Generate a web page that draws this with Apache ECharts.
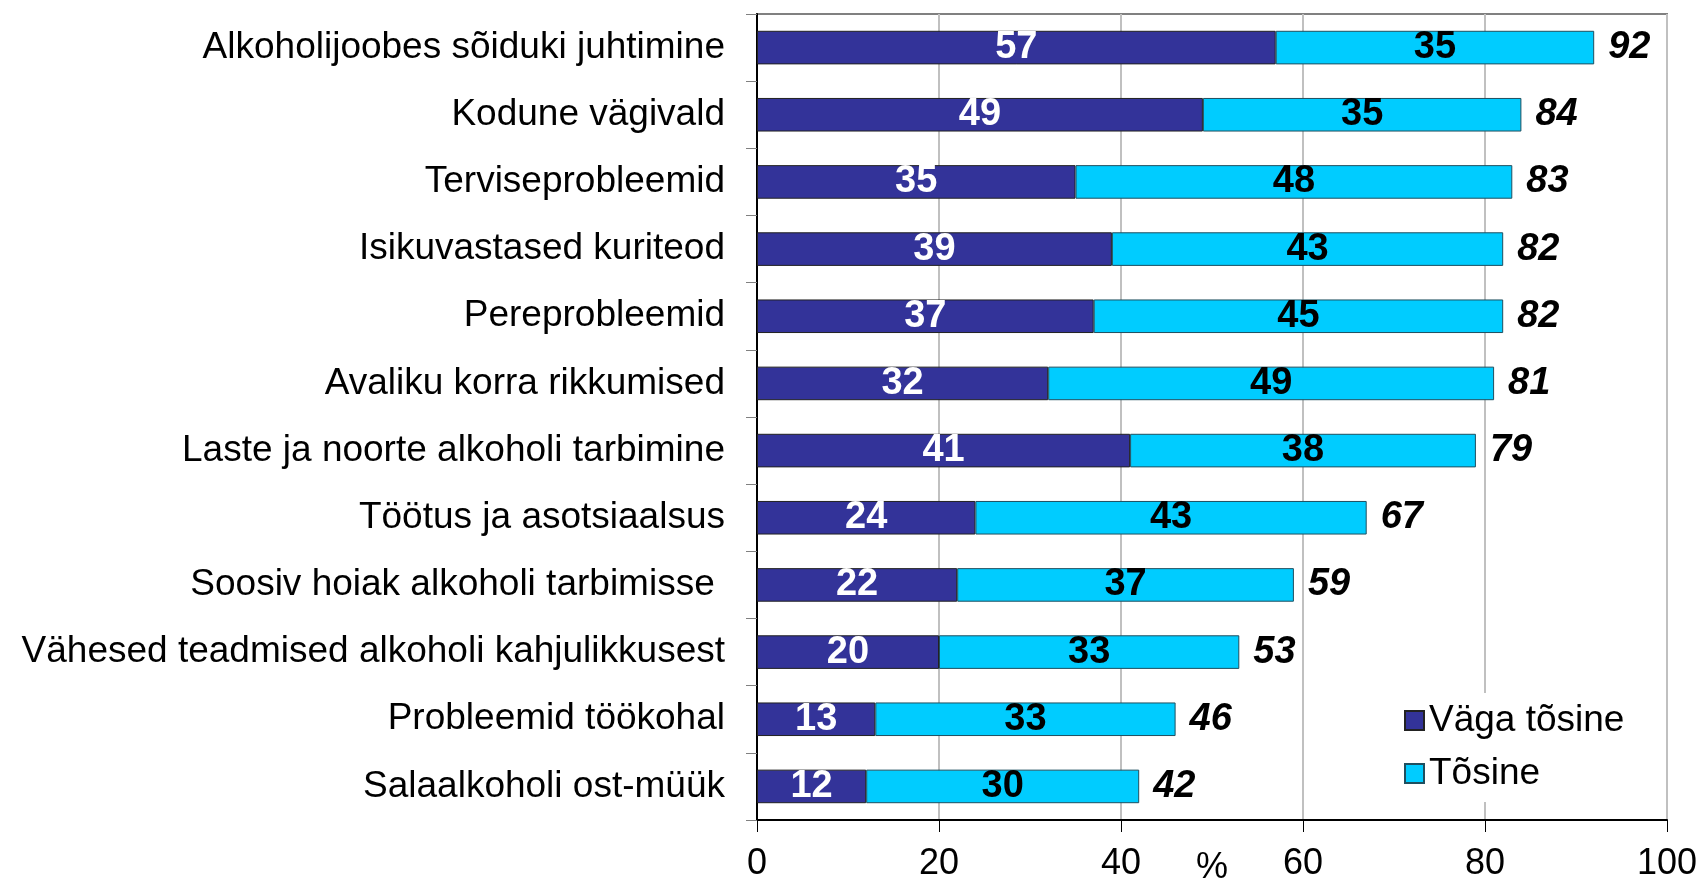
<!DOCTYPE html>
<html>
<head>
<meta charset="utf-8">
<script src="https://cdn.jsdelivr.net/npm/echarts@6/dist/echarts.min.js"></script>
<style>
  html, body { margin: 0; padding: 0; background: #fff; }
  #chart { width: 1701px; height: 882px; }
</style>
</head>
<body>
<div id="chart"></div>
<script>
// categories top to bottom
const categories = [
  'Alkoholijoobes sõiduki juhtimine',
  'Kodune vägivald',
  'Terviseprobleemid',
  'Isikuvastased kuriteod',
  'Pereprobleemid',
  'Avaliku korra rikkumised',
  'Laste ja noorte alkoholi tarbimine',
  'Töötus ja asotsiaalsus',
  'Soosiv hoiak alkoholi tarbimisse ',
  'Vähesed teadmised alkoholi kahjulikkusest',
  'Probleemid töökohal',
  'Salaalkoholi ost-müük'
]
const vagaTosine = [57, 49, 35, 39, 37, 32, 41, 24, 22, 20, 13, 12]
const tosine = [35, 35, 48, 43, 45, 49, 38, 43, 37, 33, 33, 30]
const totals = [92, 84, 83, 82, 82, 81, 79, 67, 59, 53, 46, 42]
const xTicks = [0, 20, 40, 60, 80, 100]

const font = '"Liberation Sans", Arial, sans-serif'

const chart = echarts.init(document.getElementById('chart'))
chart.setOption({
  animation: false,
  textStyle: { fontFamily: font },
  grid: {
    left: 757,
    right: 34,
    top: 14,
    bottom: 62,
    outerBoundsMode: 'none',
    containLabel: false,
    show: true,
    borderColor: '#808080',
    borderWidth: 2
  },
  legend: {
    orient: 'vertical',
    left: 1394,
    top: 693,
    padding: [9, 10, 10, 10],
    backgroundColor: '#fff',
    icon: 'rect',
    itemWidth: 19,
    itemHeight: 19,
    itemGap: 16,
    textStyle: { fontSize: 37, color: '#000', fontFamily: font },
    data: ['Väga tõsine', 'Tõsine']
  },
  xAxis: {
    type: 'value',
    min: xTicks[0],
    max: xTicks[xTicks.length - 1],
    interval: 20,
    name: '%',
    nameLocation: 'middle',
    nameGap: 30,
    nameMoveOverlap: false,
    nameTextStyle: { fontSize: 36, color: '#000' },
    axisLine: { show: true, lineStyle: { color: '#000', width: 2 } },
    axisTick: { show: true, length: 12, lineStyle: { color: '#000', width: 1 } },
    axisLabel: { fontSize: 36, color: '#000', margin: 26 },
    splitLine: { show: true, lineStyle: { color: '#c0c0c0', width: 2 } }
  },
  yAxis: {
    type: 'category',
    inverse: true,
    data: categories,
    axisLine: { show: true, lineStyle: { color: '#000', width: 2 } },
    axisTick: { show: true, length: 11, inside: false, lineStyle: { color: '#808080', width: 1 } },
    axisLabel: { fontSize: 37, color: '#000', margin: 32 }
  },
  series: [
    {
      name: 'Väga tõsine',
      type: 'bar',
      stack: 'total',
      barWidth: '50%',
      data: vagaTosine,
      itemStyle: { color: '#333399', borderColor: '#222', borderWidth: 1 },
      label: {
        show: true,
        position: 'inside',
        color: '#fff',
        fontSize: 38,
        fontWeight: 'bold'
      }
    },
    {
      name: 'Tõsine',
      type: 'bar',
      stack: 'total',
      barWidth: '50%',
      data: tosine,
      itemStyle: { color: '#00ccff', borderColor: '#1f4f5f', borderWidth: 1 },
      label: {
        show: true,
        position: 'inside',
        color: '#000',
        fontSize: 38,
        fontWeight: 'bold'
      }
    },
    {
      name: 'kokku',
      type: 'bar',
      barWidth: '50%',
      barGap: '-100%',
      z: 1,
      data: totals,
      itemStyle: { color: 'rgba(0,0,0,0)' },
      emphasis: { disabled: true },
      label: {
        show: true,
        position: 'right',
        distance: 14,
        color: '#000',
        fontSize: 38,
        fontWeight: 'bold',
        fontStyle: 'italic'
      }
    }
  ]
})
</script>
</body>
</html>
